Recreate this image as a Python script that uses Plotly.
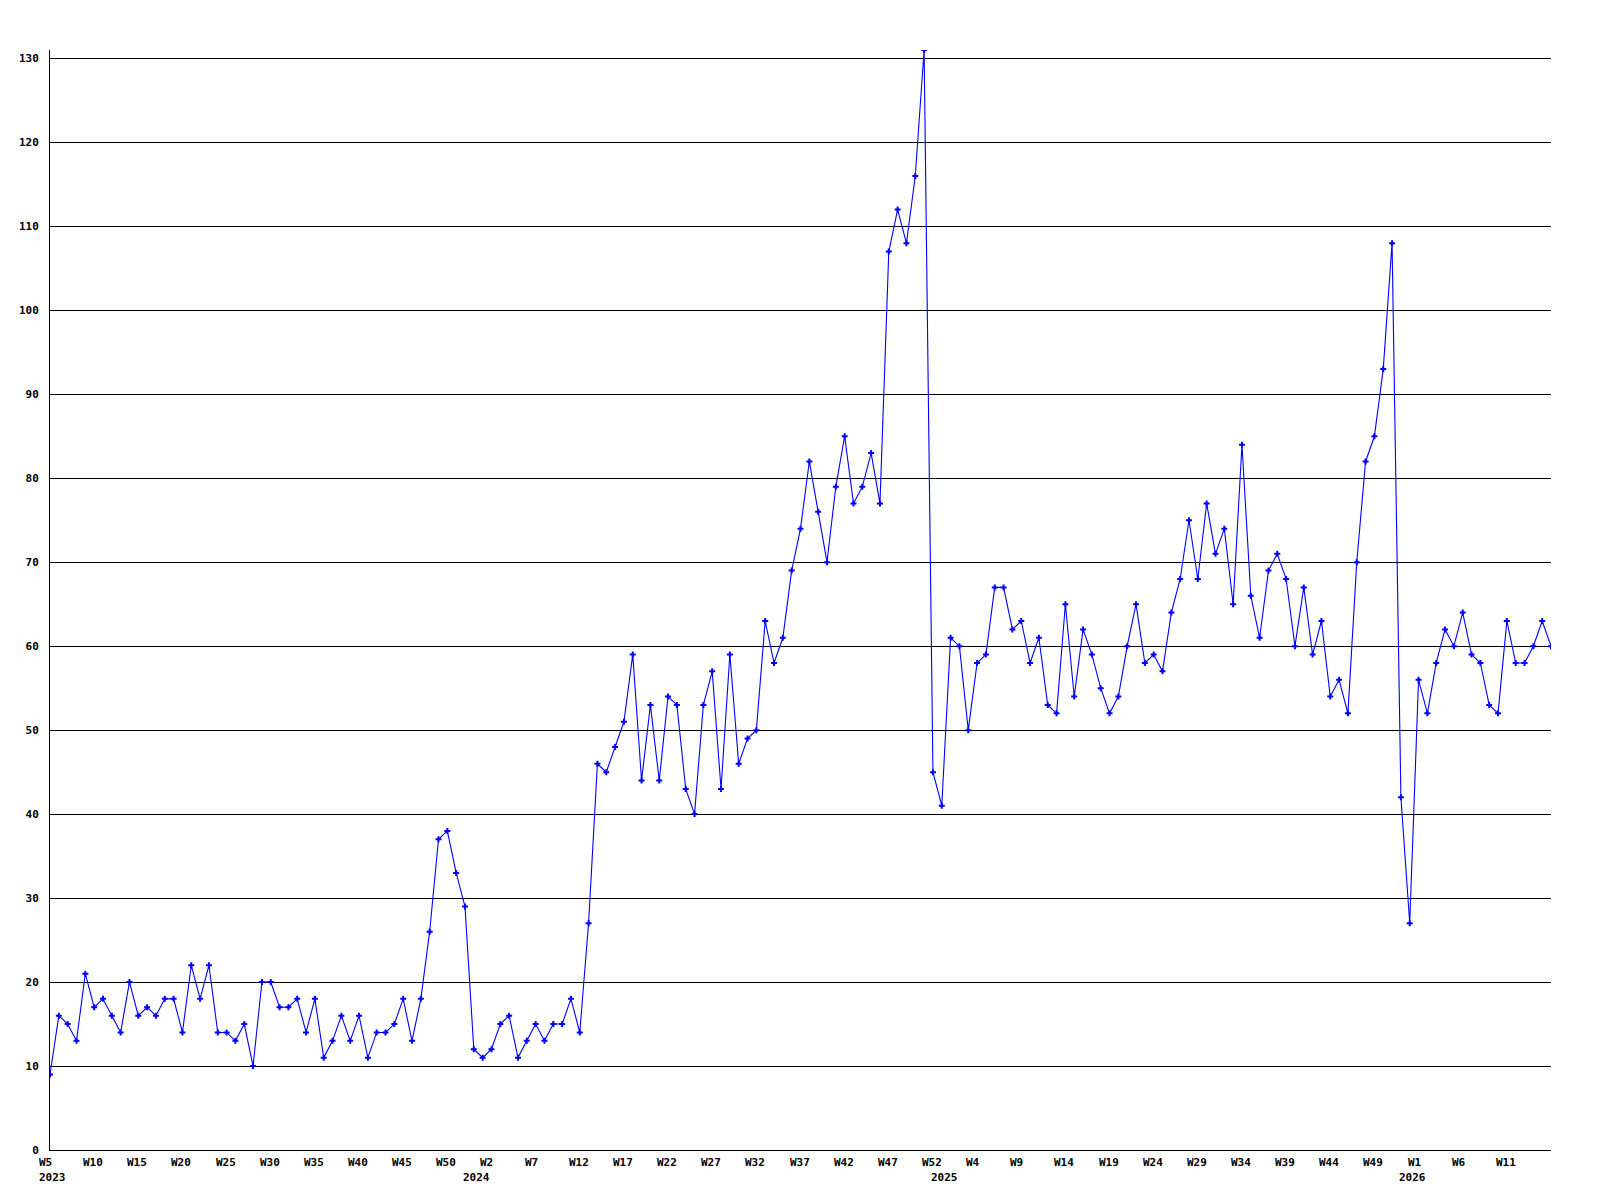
import plotly.graph_objects as go

# Weekly values (week numbering as shown in the chart, W0 = first partial week of a year)
start_2023 = 5
vals_2023 = [9, 16, 15, 13, 21, 17, 18, 16, 14, 20, 16, 17, 16, 18, 18, 14, 22, 18, 22, 14,
             14, 13, 15, 10, 20, 20, 17, 17, 18, 14, 18, 11, 13, 16, 13, 16, 11, 14, 14, 15,
             18, 13, 18, 26, 37, 38, 33, 29]
start_2024 = 0
vals_2024 = [12, 11, 12, 15, 16, 11, 13, 15, 13, 15, 15, 18, 14, 27, 46, 45, 48, 51, 59, 44,
             53, 44, 54, 53, 43, 40, 53, 57, 43, 59, 46, 49, 50, 63, 58, 61, 69, 74, 82, 76,
             70, 79, 85, 77, 79, 83, 77, 107, 112, 108, 116, 131, 45]
start_2025 = 0
vals_2025 = [41, 61, 60, 50, 58, 59, 67, 67, 62, 63, 58, 61, 53, 52, 65, 54, 62, 59, 55, 52,
             54, 60, 65, 58, 59, 57, 64, 68, 75, 68, 77, 71, 74, 65, 84, 66, 61, 69, 71, 68,
             60, 67, 59, 63, 54, 56, 52, 70, 82, 85, 93, 108, 42]
start_2026 = 0
vals_2026 = [27, 56, 52, 58, 62, 60, 64, 59, 58, 53, 52, 63, 58, 58, 60, 63, 60]

tick_labels = ["W5", "W10", "W15", "W20", "W25", "W30", "W35", "W40", "W45", "W50",
               "W2", "W7", "W12", "W17", "W22", "W27", "W32", "W37", "W42", "W47", "W52",
               "W4", "W9", "W14", "W19", "W24", "W29", "W34", "W39", "W44", "W49",
               "W1", "W6", "W11"]
year_labels = ["2023", "2024", "2025", "2026"]
y_ticks = [0, 10, 20, 30, 40, 50, 60, 70, 80, 90, 100, 110, 120, 130]

# build categories
series = [(2023, start_2023, vals_2023), (2024, start_2024, vals_2024),
          (2025, start_2025, vals_2025), (2026, start_2026, vals_2026)]
cats, vals, year_start_cats = [], [], []
for yr, st, vs in series:
    year_start_cats.append(f"{yr}-W{st:02d}")
    for i, v in enumerate(vs):
        cats.append(f"{yr}-W{st + i:02d}")
        vals.append(v)

tick_cats = cats[0:len(tick_labels) * 5:5]

FONT = "DejaVu Sans Mono"

fig = go.Figure()
fig.add_trace(go.Scatter(
    x=cats, y=vals, mode="lines+markers",
    line=dict(color="#0000ff", width=1.1),
    marker=dict(symbol="cross", size=5, color="#0000ff", line=dict(width=0)),
    showlegend=False, hoverinfo="x+y",
))

annotations = []
for c, t in zip(tick_cats, tick_labels):
    annotations.append(dict(x=c, y=0, xref="x", yref="paper", text=t, showarrow=False,
                            xanchor="left", yanchor="top", xshift=-13, yshift=-4,
                            font=dict(family=FONT, size=11, color="black", weight="bold")))
for c, t in zip(year_start_cats, year_labels):
    annotations.append(dict(x=c, y=0, xref="x", yref="paper", text=t, showarrow=False,
                            xanchor="left", yanchor="top", xshift=-13, yshift=-19,
                            font=dict(family=FONT, size=11, color="black", weight="bold")))

fig.update_layout(
    width=1592, height=1192,
    margin=dict(l=42, r=49, t=42, b=50),
    paper_bgcolor="white", plot_bgcolor="white",
    font=dict(family=FONT, size=11, color="black", weight="bold"),
    annotations=annotations,
    xaxis=dict(type="category", range=[0, len(cats) - 1], showgrid=False, zeroline=False,
               showline=True, linecolor="black", linewidth=1, showticklabels=False, ticks=""),
    yaxis=dict(range=[0, 131], tickvals=y_ticks, ticktext=[str(v) for v in y_ticks],
               showgrid=True, gridcolor="black", gridwidth=1, zeroline=False,
               showline=True, linecolor="black", linewidth=1, ticks="",
               ticklabelstandoff=8,
               tickfont=dict(family=FONT, size=11, color="black", weight="bold")),
)

fig.write_html("out.html")
